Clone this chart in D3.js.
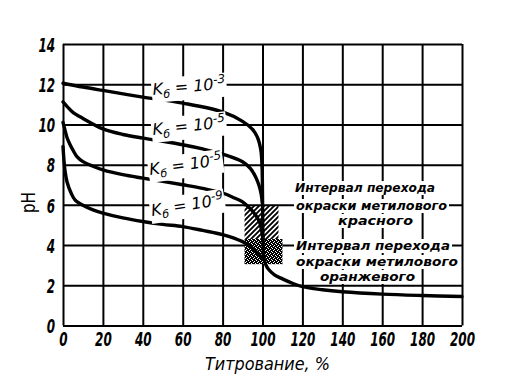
<!DOCTYPE html>
<html><head><meta charset="utf-8">
<script src="https://cdn.jsdelivr.net/npm/d3@7/dist/d3.min.js"></script>
<style>body{margin:0;background:#fff}svg{display:block}</style>
</head><body>
<svg id="chart" width="513" height="388"></svg>
<script>
// ---- data ----
const xTicks = [0,20,40,60,80,100,120,140,160,180,200];
const yTicks = [0,2,4,6,8,10,12,14];
// [titration %, pH]
const curveKb3 = [[0,12.05],[10,11.86],[20,11.69],[40,11.36],[60,11.06],[80,10.62],[90,10.15],[95,9.75],[97.5,9.35],[99.2,8.7],[99.8,7.8],[100,6.5],[100.2,4.6],[100.6,3.45],[101.5,3.05],[103,2.8],[106,2.52],[110,2.32],[115,2.1],[120,1.93],[130,1.78],[140,1.68],[160,1.56],[180,1.49],[200,1.44]];
const curveKb5 = [[0,11.12],[2,10.9],[5,10.6],[10,10.3],[20,9.78],[30,9.5],[40,9.32],[50,9.16],[60,8.99],[70,8.78],[80,8.52],[90,8.14],[94,7.8],[96.5,7.4],[98.3,6.95],[99.3,6.55],[99.9,6.1]];
const curveKb7 = [[0,10.1],[1,9.72],[2,9.35],[3.5,9.0],[5,8.72],[7,8.4],[10,8.15],[15,7.92],[20,7.74],[30,7.5],[40,7.33],[50,7.17],[60,7.0],[70,6.82],[80,6.59],[86,6.34],[90,6.15],[94,5.8],[96.5,5.5],[98.5,5.15],[99.6,4.7],[100.2,4.3]];
const curveKb9 = [[0,8.9],[0.5,8.2],[1,7.7],[2,7.15],[4,6.6],[6,6.25],[10,5.98],[15,5.75],[20,5.59],[30,5.35],[40,5.17],[50,5.03],[60,4.92],[70,4.73],[80,4.52],[90,4.17],[94,3.92],[97,3.65],[99,3.45],[100.4,3.35]];
const kbExponents = ["-3","-5","-5","-9"];
// indicator transition intervals: [x0, x1, pH0, pH1]
const methylRed = [91,108,4.3,5.95];
const methylOrange = [91,110,3.05,4.3];
const noteRed = ["Интервал перехода","окраски метилового","красного"];
const noteOrange = ["Интервал перехода","окраски метилового","оранжевого"];
const xTitle = "Титрование, %";
const yTitle = "pH";

// ---- drawing ----
const svg = d3.select("#chart");
svg.append("rect").attr("width",513).attr("height",388).attr("fill","#fff");
const x = d3.scaleLinear([0,200],[63,462]);
const y = d3.scaleLinear([0,14],[325.5,44]);
const FONT = "'DejaVu Sans', sans-serif";

const defs = svg.append("defs");
const hatch = defs.append("pattern").attr("id","hatch").attr("patternUnits","userSpaceOnUse").attr("width",5).attr("height",5);
hatch.append("path").attr("d","M-1,1 l2,-2 M0,5 l5,-5 M4,6 l2,-2").attr("stroke","#000").attr("stroke-width",1.9);
const stip = defs.append("pattern").attr("id","stip").attr("patternUnits","userSpaceOnUse").attr("width",4).attr("height",4);
stip.append("rect").attr("width",4).attr("height",4).attr("fill","#000");
[[0,0],[2,1],[1,2],[3,3]].forEach(p=>stip.append("rect").attr("x",p[0]).attr("y",p[1]).attr("width",1).attr("height",1).attr("fill","#fff"));

// grid via axes
const gx = svg.append("g").attr("transform",`translate(0,${y(0)})`)
  .call(d3.axisBottom(x).tickValues(xTicks).tickSize(-(y(0)-y(14))).tickSizeOuter(0).tickFormat(d3.format("d")));
gx.select(".domain").remove();
gx.selectAll(".tick line").attr("stroke","#000").attr("stroke-width",2);
gx.selectAll(".tick text").attr("y",21).attr("dy","0").attr("fill","#000")
  .style("font-family",FONT).style("font-style","italic").style("font-weight","bold").style("font-size","20px")
  .attr("transform","scale(0.6,1)");

const gy = svg.append("g").attr("transform",`translate(${x(0)},0)`)
  .call(d3.axisLeft(y).tickValues(yTicks).tickSize(-(x(200)-x(0))).tickSizeOuter(0).tickFormat(d3.format("d")));
gy.select(".domain").remove();
gy.selectAll(".tick line").attr("stroke","#000").attr("stroke-width",2);
gy.selectAll(".tick text").attr("x",-13).attr("dy","0.36em").attr("fill","#000")
  .style("font-family",FONT).style("font-style","italic").style("font-weight","bold").style("font-size","20px")
  .attr("transform","scale(0.6,1)");

// annotation text backgrounds (erase grid under text)
const noteLayout = [[295,435,192],[296,447,210],[338,413,225],[296,450,250],[296,458,266],[320,415,281]];
const notes = noteRed.concat(noteOrange);
const bgLayer = svg.append("g");
notes.forEach((t,i)=>{
  const [x0,x1,b]=noteLayout[i];
  bgLayer.append("rect").attr("x",x0-2).attr("y",b-11).attr("width",x1-x0+4).attr("height",14).attr("fill","#fff");
});

// indicator regions
svg.append("rect").attr("x",x(methylRed[0])).attr("width",x(methylRed[1])-x(methylRed[0]))
  .attr("y",y(methylRed[3])).attr("height",y(methylRed[2])-y(methylRed[3])).attr("fill","url(#hatch)");
svg.append("rect").attr("x",x(methylOrange[0])).attr("width",x(methylOrange[1])-x(methylOrange[0]))
  .attr("y",y(methylOrange[3])).attr("height",y(methylOrange[2])-y(methylOrange[3])).attr("fill","url(#stip)");

// curves
const line = d3.line().x(d=>x(d[0])).y(d=>y(d[1])).curve(d3.curveCatmullRom.alpha(0.5));
[curveKb3,curveKb5,curveKb7,curveKb9].forEach(c=>{
  svg.append("path").datum(c).attr("d",line).attr("fill","none").attr("stroke","#000")
    .attr("stroke-width",3.4).attr("stroke-linecap","round").attr("stroke-linejoin","round");
});

// annotation text
notes.forEach((t,i)=>{
  const [x0,x1,b]=noteLayout[i];
  svg.append("text").attr("x",x0).attr("y",b).text(t)
    .attr("textLength",x1-x0).attr("lengthAdjust","spacingAndGlyphs")
    .style("font-family",FONT).style("font-style","italic").style("font-weight","bold").style("font-size","12px").attr("fill","#000");
});

// Kb labels
const labelPos = [[153,95,-5],[153,135,-6],[150,175,-8],[152,216,-9]];
kbExponents.forEach((e,i)=>{
  const [lx,ly,rot]=labelPos[i];
  const g = svg.append("g").attr("transform",`translate(${lx},${ly}) rotate(${rot})`);
  const bg = g.append("rect").attr("fill","#fff");
  const t = g.append("text").attr("x",0).attr("y",0).attr("fill","#000")
    .style("font-family",FONT).style("font-style","italic").style("font-size","16px");
  t.append("tspan").text("K");
  t.append("tspan").text("б").attr("dy",4).style("font-size","11px");
  t.append("tspan").text(" = 10").attr("dy",-4);
  t.append("tspan").text(e).attr("dy",-6).style("font-size","12px");
  const bb = t.node().getBBox();
  bg.attr("x",bb.x-1).attr("y",bb.y+1).attr("width",bb.width+2).attr("height",bb.height);
});

// axis titles
svg.append("text").attr("x",205).attr("y",370).text(xTitle)
  .attr("textLength",125).attr("lengthAdjust","spacingAndGlyphs")
  .style("font-family",FONT).style("font-style","italic").style("font-size","18px").attr("fill","#000");
svg.append("text").attr("transform","translate(35,213) rotate(-90)").text(yTitle)
  .attr("textLength",21).attr("lengthAdjust","spacingAndGlyphs")
  .style("font-family",FONT).style("font-size","19px").attr("fill","#000");
</script>
</body></html>
